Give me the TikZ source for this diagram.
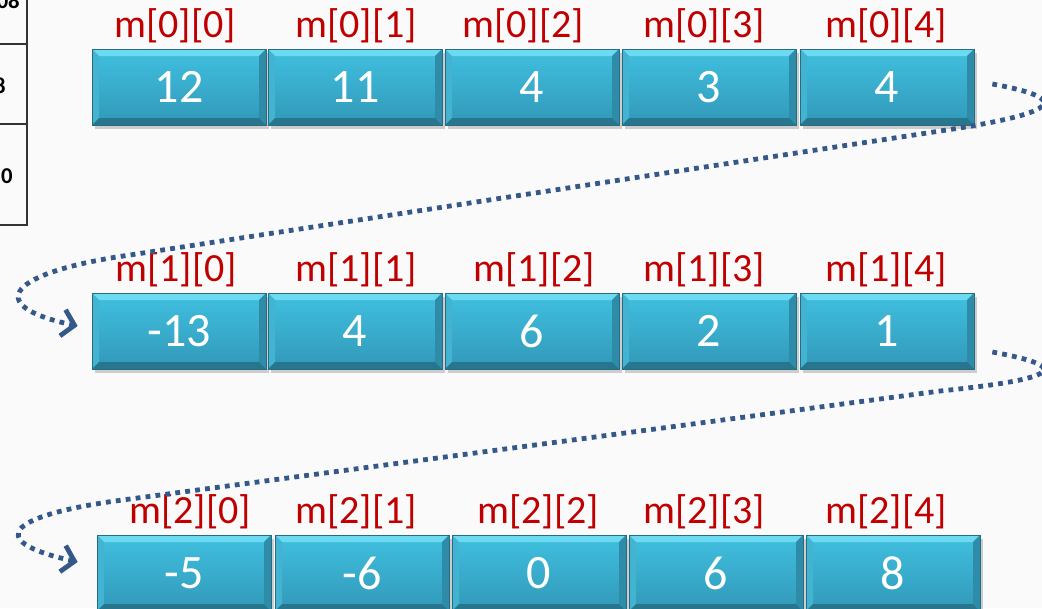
\documentclass[tikz,border=0pt]{standalone}
\usepackage{fontspec}
\setmainfont{Carlito}
\usepackage{xcolor}
\usepackage{tikz}
\usetikzlibrary{arrows.meta,calc,shadows}

\definecolor{bgpage}{RGB}{250,250,250}
\definecolor{idxred}{RGB}{192,0,0}
\definecolor{dotblue}{RGB}{52,88,138}
\definecolor{facetop}{RGB}{64,192,224}
\definecolor{facebot}{RGB}{50,152,184}
\definecolor{bevtop}{RGB}{108,218,240}
\definecolor{bevleft}{RGB}{66,180,210}
\definecolor{bevright}{RGB}{46,140,168}
\definecolor{bevbot}{RGB}{40,118,142}
\definecolor{celledge}{RGB}{38,108,130}

\begin{document}
\begin{tikzpicture}[x=0.75pt,y=0.75pt,yscale=-1,xscale=1,
	cellbox/.style={minimum width=130.5pt,minimum height=57pt,inner sep=0pt,
		top color=facetop,bottom color=facebot,draw=celledge,line width=0.5pt,
		text=white,font=\fontsize{36}{40}\selectfont,
		drop shadow={shadow xshift=2pt,shadow yshift=-3pt,opacity=0.3,fill=black!60},
		path picture={
			\coordinate (nw) at (path picture bounding box.north west);
			\coordinate (ne) at (path picture bounding box.north east);
			\coordinate (sw) at (path picture bounding box.south west);
			\coordinate (se) at (path picture bounding box.south east);
			\fill[bevtop] (nw) -- (ne) -- ($(ne)+(-7,-7)$) -- ($(nw)+(7,-7)$) -- cycle;
			\fill[bevleft] (nw) -- ($(nw)+(7,-7)$) -- ($(sw)+(7,7)$) -- (sw) -- cycle;
			\fill[bevright] (ne) -- ($(ne)+(-7,-7)$) -- ($(se)+(-7,7)$) -- (se) -- cycle;
			\fill[bevbot] (sw) -- ($(sw)+(7,7)$) -- ($(se)+(-7,7)$) -- (se) -- cycle;
		}},
	idxlabel/.style={anchor=base,inner sep=0pt,text=idxred,font=\fontsize{30}{34}\selectfont},
	tabtext/.style={anchor=base east,inner sep=0pt,font=\fontsize{17}{20}\selectfont\bfseries},
	dotpath/.style={dotblue,line width=3.6pt,dash pattern={on 3.6pt off 3.9pt},
		-{Straight Barb[length=9pt,width=20pt,line width=3.6pt]}}]

\useasboundingbox (0,0) rectangle (1042,608);
\clip (0,0) rectangle (1042,608);
\fill[bgpage] (0,0) rectangle (1042,608);

% Table fragment at the left border
\draw[line width=1.1pt,black!80] (27,0) -- (27,225) -- (0,225);
\draw[line width=1.1pt,black!80] (0,44) -- (27,44);
\draw[line width=1.1pt,black!80] (0,124) -- (27,124);
\node[tabtext] (t0) at (20,8) {08};
\node[tabtext] (t1) at (6,93) {8};
\node[tabtext] (t2) at (13,183) {0};

% Row 0
\node[cellbox] (c00) at (179,87) {12};
\node[cellbox] (c01) at (355,87) {11};
\node[cellbox] (c02) at (532,87) {4};
\node[cellbox] (c03) at (709,87) {3};
\node[cellbox] (c04) at (887,87) {4};
% Row 1
\node[cellbox] (c10) at (179,331) {-13};
\node[cellbox] (c11) at (355,331) {4};
\node[cellbox] (c12) at (532,331) {6};
\node[cellbox] (c13) at (709,331) {2};
\node[cellbox] (c14) at (887,331) {1};
% Row 2
\node[cellbox] (c20) at (184,573) {-5};
\node[cellbox] (c21) at (362,573) {-6};
\node[cellbox] (c22) at (539,573) {0};
\node[cellbox] (c23) at (716,573) {6};
\node[cellbox] (c24) at (893,573) {8};

% Index labels
\node[idxlabel] (l00) at (175,37) {m[0][0]};
\node[idxlabel] (l01) at (356,37) {m[0][1]};
\node[idxlabel] (l02) at (523,37) {m[0][2]};
\node[idxlabel] (l03) at (704,37) {m[0][3]};
\node[idxlabel] (l04) at (886,37) {m[0][4]};
\node[idxlabel] (l10) at (176,281) {m[1][0]};
\node[idxlabel] (l11) at (356,281) {m[1][1]};
\node[idxlabel] (l12) at (534,281) {m[1][2]};
\node[idxlabel] (l13) at (704,281) {m[1][3]};
\node[idxlabel] (l14) at (886,281) {m[1][4]};
\node[idxlabel] (l20) at (190,523) {m[2][0]};
\node[idxlabel] (l21) at (356,523) {m[2][1]};
\node[idxlabel] (l22) at (538,523) {m[2][2]};
\node[idxlabel] (l23) at (704,523) {m[2][3]};
\node[idxlabel] (l24) at (886,523) {m[2][4]};

% Dotted wrap-around connectors
\coordinate (r0) at ($(c04.east)+(18,-3)$);
\coordinate (e1) at ($(c10.west)+(-14,-5)$);
\coordinate (r1) at ($(c14.east)+(18,21)$);
\coordinate (e2) at ($(c20.west)+(-19,-11)$);
\draw[dotpath] (r0) .. controls (1068,98) and (1068,112) .. (940,131) -- (130,255) .. controls (10,272) and (-20,305) .. (e1);
\draw[dotpath] (r1) .. controls (1068,366) and (1068,378) .. (940,391) -- (130,499) .. controls (10,514) and (-20,540) .. (e2);

\end{tikzpicture}
\end{document}
